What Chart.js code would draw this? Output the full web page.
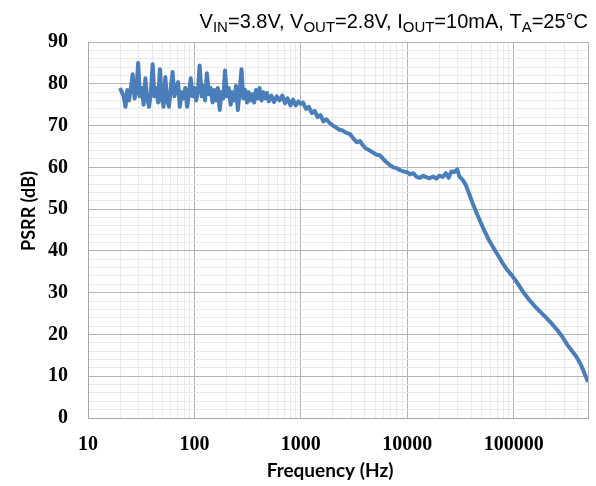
<!DOCTYPE html>
<html>
<head>
<meta charset="utf-8">
<script src="https://cdn.jsdelivr.net/npm/chart.js@4/dist/chart.umd.min.js"></script>
<style>
  html, body { margin: 0; padding: 0; background: #fff; }
</style>
</head>
<body>
<canvas id="psrrChart" width="596" height="486"></canvas>
<script>
// frequency (Hz) and PSRR (dB)
const freq = [
  20, 20.8, 21.6, 22.5, 23.4, 24.3, 25.3, 26.3, 27.4, 28.5, 29.6, 30.8, 32, 33.3, 34.6, 36, 37.5, 39, 40.5, 42.1,
  43.8, 45.6, 47.4, 49.3, 51.3, 53.3, 55.4, 57.7, 60, 62.4, 64.9, 67.5, 70.2, 73, 75.9, 78.9, 82.1, 85.4, 88.8, 92.4,
  96, 100, 104, 108, 112, 117, 121, 126, 131, 137, 142, 148, 154, 160, 166, 173, 180, 187, 194, 202,
  210, 219, 227, 237, 246, 256, 266, 277, 288, 300, 312, 324, 337, 351, 365, 379, 395, 410, 427, 444,
  462, 480, 500, 530, 560, 595, 630, 670, 710, 750, 800, 845, 895, 950, 1000,
  1050, 1120, 1190, 1270, 1350, 1440, 1530, 1630, 1740, 1870, 2000, 2150, 2300, 2480, 2700, 2890,
  3100, 3350, 3600, 3820, 4100, 4450, 4800, 5150, 5520, 5950, 6400, 6900, 7400, 7960, 8600, 9200,
  9890, 10600, 11400, 12280, 13200, 14200, 15200, 16260, 17500, 18800, 20000, 21550, 23000, 24500,
  26000, 27900, 29500, 31000, 33200, 35500, 38000, 41200, 45500, 51200, 58000, 64000, 69200, 77000,
  86000, 95700, 108000, 122000, 141000, 160000, 181000, 204000, 230000, 258000, 288000, 320000,
  355000, 391000, 430000, 465000, 500000
];
const psrr = [
  79, 78, 77, 74.5, 78.5, 76, 79, 82.3, 76.5, 78, 85, 77, 79, 75, 81.3, 76.5, 74.5, 78, 84.7, 77,
  79, 75.5, 83.5, 76.5, 74.5, 81.6, 76, 74.5, 79, 82.8, 77, 78.5, 80.4, 74.5, 78, 76.5, 79, 74.5, 77.5, 81.3,
  77, 79, 76, 78.5, 84.4, 77, 79.5, 76, 82.5, 77.5, 79, 75.5, 78.5, 76, 79, 73.7, 78, 76.5, 83.2, 77,
  79, 75, 78, 76, 79.5, 73.7, 78, 83.5, 76.5, 78.5, 75.5, 78, 76, 77.5, 75.5, 78.5, 76.5, 79, 76, 78,
  76.5, 77.8, 75.8, 77.2, 75.6, 77, 76, 77.2, 75.3, 76.5, 74.8, 76.2, 74.8, 75.8, 75.2,
  75.5, 74, 74.5, 73, 73.5, 72, 72.5, 71, 71.5, 70.6, 70, 69.5, 69, 68.8, 68.2, 68,
  67, 66, 66.3, 65.3, 64.5, 64, 63.5, 63, 62.9, 62, 61.2, 60.5, 60, 59.8, 59.3, 59,
  58.9, 58.3, 58.6, 57.7, 57.5, 58, 57.6, 57.4, 57.8, 57.3, 58, 57.7, 58.6, 57.5,
  59, 58.9, 59.5, 57.8, 57, 55.8, 53.8, 51.4, 48.7, 45.7, 42.8, 40.9, 39.5, 37.5,
  35.6, 34.2, 32.4, 30.3, 28.2, 26.6, 25.2, 23.9, 22.5, 21, 19.4, 17.5,
  16, 14.6, 12.7, 10.6, 8.6
];

const decades = [10, 100, 1000, 10000, 100000];
const xMin = 10, xMax = 500000;
const yMin = 0, yMax = 90;

const majorGrid = '#b3b3b3';
const minorGrid = '#e9e9e9';
const tickFont = { family: 'Liberation Serif', size: 20, weight: 'bold' };

// header with subscripts + axis titles, drawn by hand
const headerParts = [
  ['V', ''], ['IN', 'sub'], ['=3.8V, V', ''], ['OUT', 'sub'], ['=2.8V, I', ''],
  ['OUT', 'sub'], ['=10mA, T', ''], ['A', 'sub'], ['=25°C', '']
];
const labelsPlugin = {
  id: 'labels',
  afterDraw(chart) {
    const ctx = chart.ctx;
    const big = '20px "Liberation Sans"', small = '15px "Liberation Sans"';
    ctx.save();
    ctx.fillStyle = '#000';
    ctx.textBaseline = 'alphabetic';
    let total = 0;
    headerParts.forEach(([t, k]) => { ctx.font = k ? small : big; total += ctx.measureText(t).width; });
    let x = chart.chartArea.right - total;
    const base = 28;
    headerParts.forEach(([t, k]) => {
      ctx.font = k ? small : big;
      ctx.fillText(t, x, k ? base + 4 : base);
      x += ctx.measureText(t).width;
    });

    ctx.textAlign = 'center';
    ctx.textBaseline = 'middle';
    ctx.font = 'bold 19px Lato';
    ctx.fillText('Frequency (Hz)', 330, 471);

    ctx.translate(29, 211);
    ctx.rotate(-Math.PI / 2);
    ctx.font = 'bold 18px Lato';
    ctx.fillText('PSRR (dB)', 0, 0);
    ctx.restore();
  }
};

const isDecade = v => Math.abs(Math.log10(v) - Math.round(Math.log10(v))) < 1e-9;

new Chart(document.getElementById('psrrChart'), {
  type: 'scatter',
  data: {
    datasets: [{
      data: freq.map((f, i) => ({ x: f, y: psrr[i] })),
      showLine: true,
      borderColor: '#4a7ebb',
      borderWidth: 4,
      borderJoinStyle: 'round',
      pointRadius: 0,
      tension: 0
    }]
  },
  options: {
    responsive: false,
    animation: false,
    layout: { padding: { top: 42, right: 8, left: 0, bottom: 0 } },
    plugins: { legend: { display: false }, tooltip: { enabled: false } },
    scales: {
      x: {
        type: 'logarithmic',
        min: xMin,
        max: xMax,
        afterBuildTicks(scale) {
          const ticks = [];
          for (let d = 10; d <= xMax; d *= 10) {
            for (let m = 1; m <= 9; m++) {
              const v = d * m;
              if (v <= xMax) ticks.push({ value: v });
            }
          }
          scale.ticks = ticks;
        },
        afterFit(scale) {
          scale.height = 68;
          scale.paddingRight = 0;
          scale.paddingLeft = 0;
        },
        border: { color: '#a6a6a6' },
        grid: {
          drawTicks: false,
          tickLength: 0,
          color: c => (c.tick && (isDecade(c.tick.value) || c.tick.value === xMax)) ? majorGrid : minorGrid
        },
        ticks: {
          autoSkip: false,
          maxRotation: 0,
          padding: 15,
          color: '#000',
          font: tickFont,
          callback: v => decades.includes(v) ? String(v) : ''
        }
      },
      y: {
        min: yMin,
        max: yMax,
        afterFit(scale) { scale.width = 88; },
        border: { color: '#a6a6a6' },
        grid: {
          drawTicks: false,
          tickLength: 0,
          color: c => (c.tick && c.tick.value % 10 === 0) ? majorGrid : minorGrid
        },
        ticks: {
          stepSize: 2,
          autoSkip: false,
          padding: 20,
          color: '#000',
          font: tickFont,
          callback: v => v % 10 === 0 ? String(v) : ''
        }
      }
    }
  },
  plugins: [labelsPlugin]
});
</script>
</body>
</html>
